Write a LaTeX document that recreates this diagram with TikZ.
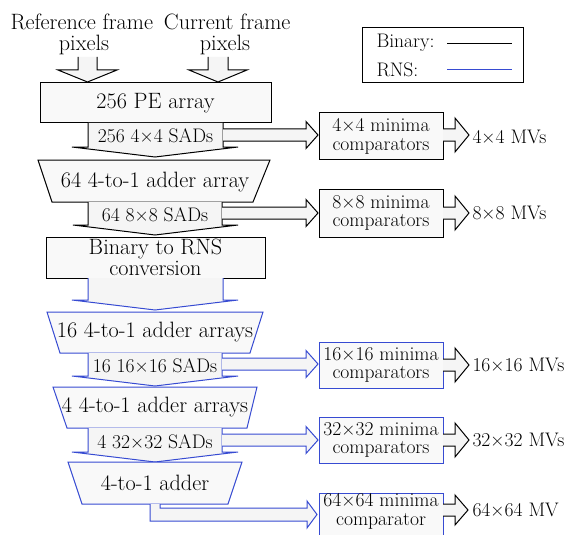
\documentclass[tikz,border=0pt]{standalone}
\definecolor{rnsblue}{RGB}{55,75,210}
\definecolor{boxfill}{RGB}{249,249,249}
\definecolor{arrfill}{RGB}{245,245,245}
\pgfdeclarelayer{bg}
\pgfsetlayers{bg,main}
\begin{document}
\begin{tikzpicture}[x=1pt,y=-1pt,line width=1pt,line join=miter,
  big/.style={font=\fontsize{22.2}{22}\selectfont,inner sep=0pt,align=center},
  small/.style={font=\fontsize{19.6}{18.8}\selectfont,inner sep=0pt,align=center},
  shp/.style={draw,fill=boxfill},
  arr/.style={fill=arrfill}]
\useasboundingbox (0,0) rectangle (571,535);

% ---------- texts ----------
\node[big,anchor=west] (ref) at (10,22) {Reference frame};
\node[big,anchor=east] (cur) at (291,22) {Current frame};
\node[big] (refp) at (84,45) {pixels};
\node[big] (curp) at (225,45) {pixels};
\node[small,anchor=west] (lbin) at (376,43) {Binary:};
\node[small,anchor=west] (lrns) at (376,70) {RNS:};
\node[big] (pe) at (155.5,103) {256 PE array};
\node[small] (sad1) at (155.5,136) {256 4×4 SADs};
\node[small] (c4) at (381,136) {4×4 minima\\comparators};
\node[small,anchor=west] (m4) at (472,137) {4×4 MVs};
\node[big] (a64) at (155,182) {64 4-to-1 adder array};
\node[small] (sad2) at (155,215) {64 8×8 SADs};
\node[small] (c8) at (381,213) {8×8 minima\\comparators};
\node[small,anchor=west] (m8) at (472,213) {8×8 MVs};
\node[big,font=\fontsize{22.2}{20.5}\selectfont] (conv) at (155.5,257.5) {Binary to RNS\\conversion};
\node[big] (a16) at (155,332) {16 4-to-1 adder arrays};
\node[small] (sad3) at (155,366) {16 16×16 SADs};
\node[small] (c16) at (381,365) {16×16 minima\\comparators};
\node[small,anchor=west] (m16) at (472,365) {16×16 MVs};
\node[big] (a4) at (155,407) {4 4-to-1 adder arrays};
\node[small] (sad4) at (155,442) {4 32×32 SADs};
\node[small] (c32) at (381,440) {32×32 minima\\comparators};
\node[small,anchor=west] (m32) at (472,440) {32×32 MVs};
\node[big] (a1) at (155,483) {4-to-1 adder};
\node[small] (t64) at (381,511) {64×64 minima\\comparator};
\node[small,anchor=west] (m64) at (472,510) {64×64 MV};

% ---------- shapes ----------
\begin{pgfonlayer}{bg}
\begin{scope}[line width=1pt,line join=miter]
\fill[white] (0,0) rectangle (571,535);
% input arrows
\fill[arr] (78,57) -- (97,57) -- (97,70) -- (117,70) -- (87.5,82) -- (58,70) -- (78,70) -- cycle;
\draw (78,57) -- (78,70) -- (58,70) -- (87.5,82) -- (117,70) -- (97,70) -- (97,57);
\fill[arr] (208,57) -- (228,57) -- (228,70) -- (247,70) -- (218,82) -- (189,70) -- (208,70) -- cycle;
\draw (208,57) -- (208,70) -- (189,70) -- (218,82) -- (247,70) -- (228,70) -- (228,57);
% legend
\draw (362,28) rectangle (523,83);
\coordinate (b1) at (447,44); \coordinate (b2) at (512,44);
\coordinate (r1) at (447,70); \coordinate (r2) at (512,70);
\draw (b1) -- (b2);
\draw[rnsblue] (r1) -- (r2);
% PE array
\filldraw[shp] (40,83) rectangle (271,123);
% SAD arrow 1
\fill[arr] (88,123) -- (223,123) -- (223,147) -- (238,147) -- (155,157) -- (72,147) -- (88,147) -- cycle;
\draw (88,123) -- (88,147) -- (72,147) -- (155,157) -- (238,147) -- (223,147) -- (223,123);
\fill[arr] (223,129) -- (306,129) -- (306,121.5) -- (318,135) -- (306,148.5) -- (306,141) -- (223,141) -- cycle;
\draw (223,129) -- (306,129) -- (306,121.5) -- (318,135) -- (306,148.5) -- (306,141) -- (223,141);
\filldraw[shp] (319,113) rectangle (443,159);
\fill[arr] (443,129) -- (455,129) -- (455,118) -- (469,135) -- (455,152) -- (455,141) -- (443,141) -- cycle;
\draw (443,129) -- (455,129) -- (455,118) -- (469,135) -- (455,152) -- (455,141) -- (443,141);
% 64 adder array
\filldraw[shp] (38,160) -- (270,160) -- (253,202) -- (52,202) -- cycle;
\fill[arr] (88,202) -- (222,202) -- (222,225) -- (238,225) -- (155,235) -- (73,225) -- (88,225) -- cycle;
\draw (88,202) -- (88,225) -- (73,225) -- (155,235) -- (238,225) -- (222,225) -- (222,202);
\fill[arr] (222,207) -- (306,207) -- (306,199.5) -- (318,213) -- (306,226.5) -- (306,219) -- (222,219) -- cycle;
\draw (222,207) -- (306,207) -- (306,199.5) -- (318,213) -- (306,226.5) -- (306,219) -- (222,219);
\filldraw[shp] (319,189) rectangle (443,237);
\fill[arr] (443,207) -- (455,207) -- (455,196) -- (469,213) -- (455,230) -- (455,219) -- (443,219) -- cycle;
\draw (443,207) -- (455,207) -- (455,196) -- (469,213) -- (455,230) -- (455,219) -- (443,219);
% conversion
\filldraw[shp] (46,237) rectangle (265,278);
\fill[arr] (88,278) -- (223,278) -- (223,300) -- (238,300) -- (155,310) -- (72,300) -- (88,300) -- cycle;
\draw[rnsblue] (88,278) -- (88,300) -- (72,300) -- (155,310) -- (238,300) -- (223,300) -- (223,278);
% 16 adder arrays
\filldraw[shp,draw=rnsblue] (47,312) -- (263,312) -- (250,353) -- (60,353) -- cycle;
\fill[arr] (88,353) -- (222,353) -- (222,376) -- (238,376) -- (155,386) -- (72,376) -- (88,376) -- cycle;
\draw[rnsblue] (88,353) -- (88,376) -- (72,376) -- (155,386) -- (238,376) -- (222,376) -- (222,353);
\fill[arr] (222,358) -- (306,358) -- (306,350.5) -- (318,364) -- (306,377.5) -- (306,370) -- (222,370) -- cycle;
\draw[rnsblue] (222,358) -- (306,358) -- (306,350.5) -- (318,364) -- (306,377.5) -- (306,370) -- (222,370);
\filldraw[shp,draw=rnsblue] (319,342) rectangle (443,388);
\fill[arr] (443,359) -- (455,359) -- (455,348) -- (469,365) -- (455,382) -- (455,371) -- (443,371) -- cycle;
\draw (443,359) -- (455,359) -- (455,348) -- (469,365) -- (455,382) -- (455,371) -- (443,371);
% 4 adder arrays
\filldraw[shp,draw=rnsblue] (53,387) -- (257,387) -- (247,428) -- (67,428) -- cycle;
\fill[arr] (88,428) -- (222,428) -- (222,452) -- (238,452) -- (155,462) -- (72,452) -- (88,452) -- cycle;
\draw[rnsblue] (88,428) -- (88,452) -- (72,452) -- (155,462) -- (238,452) -- (222,452) -- (222,428);
\fill[arr] (222,434) -- (306,434) -- (306,426.5) -- (318,440) -- (306,453.5) -- (306,446) -- (222,446) -- cycle;
\draw[rnsblue] (222,434) -- (306,434) -- (306,426.5) -- (318,440) -- (306,453.5) -- (306,446) -- (222,446);
\filldraw[shp,draw=rnsblue] (319,417) rectangle (443,463);
\fill[arr] (443,434) -- (455,434) -- (455,423) -- (469,440) -- (455,457) -- (455,446) -- (443,446) -- cycle;
\draw (443,434) -- (455,434) -- (455,423) -- (469,440) -- (455,457) -- (455,446) -- (443,446);
% final adder
\filldraw[shp,draw=rnsblue] (68,462) -- (242,462) -- (228,504) -- (82,504) -- cycle;
\fill[arr] (150,504) -- (150,521) -- (307,521) -- (307,528) -- (317,514.5) -- (307,501) -- (307,508) -- (160,508) -- (160,504) -- cycle;
\draw[rnsblue] (150,504) -- (150,521) -- (307,521) -- (307,528) -- (317,514.5) -- (307,501) -- (307,508) -- (160,508) -- (160,504);
\filldraw[shp,draw=rnsblue] (319,493) rectangle (443,540);
\fill[arr] (443,504) -- (455,504) -- (455,495) -- (468,510) -- (455,525) -- (455,516) -- (443,516) -- cycle;
\draw (443,504) -- (455,504) -- (455,495) -- (468,510) -- (455,525) -- (455,516) -- (443,516);
\end{scope}
\end{pgfonlayer}
\end{tikzpicture}
\end{document}
